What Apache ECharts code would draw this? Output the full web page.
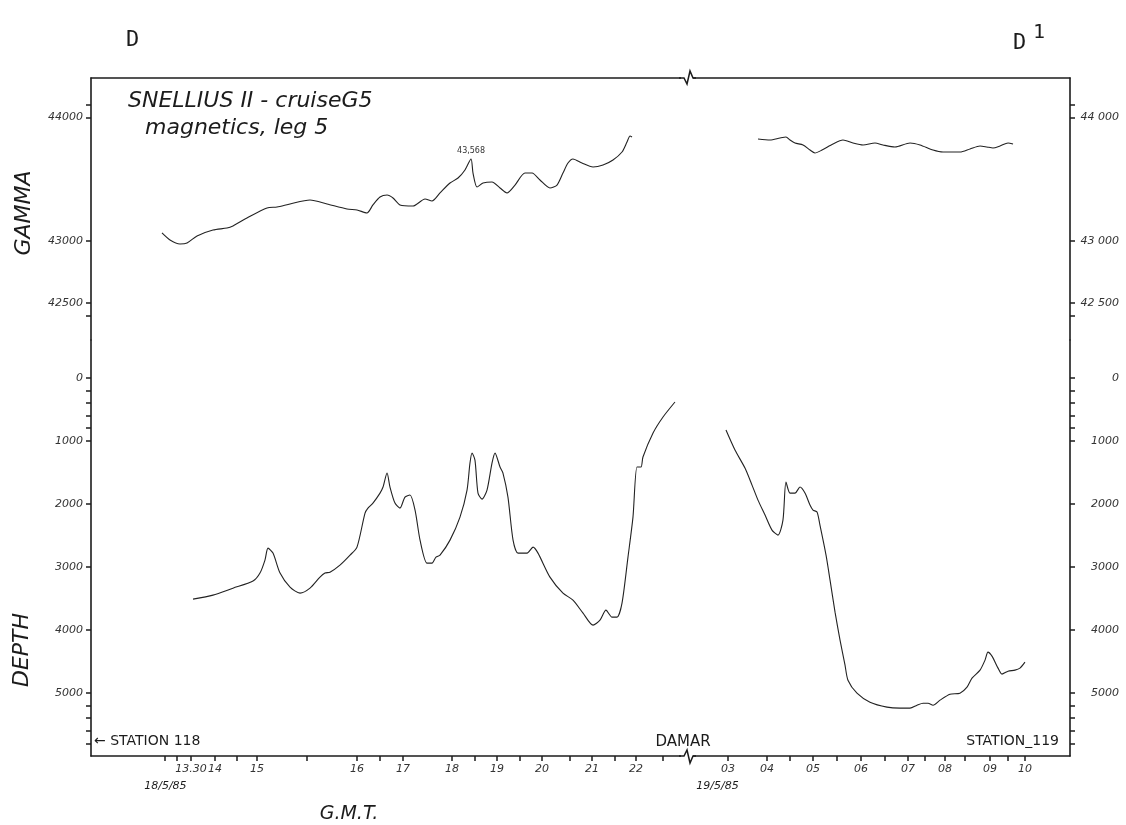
<!DOCTYPE html>
<html>
<head>
<meta charset="UTF-8">
<script src="https://cdn.jsdelivr.net/npm/echarts@6/dist/echarts.min.js"></script>
<style>
  html, body { margin: 0; background: #fff; }
  #main { width: 1126px; height: 825px; }
</style>
</head>
<body>
<div id="main"></div>
<script>
// x = position along the ship track, arbitrary units 0..100 across the frame

// magnetics (gamma), before and after the Damar gap
var gammaWestX = [7.25, 8.07, 9.09, 9.81, 10.83, 12.46, 13.89, 14.50, 15.93, 17.98, 19.00, 20.33, 22.37, 24.11, 26.15, 27.17, 28.19, 28.80, 29.52, 30.24, 30.85, 31.56, 32.89, 34.12, 34.83, 35.65, 36.67, 37.49, 38.20, 38.82, 39.02, 39.43, 40.04, 40.96, 41.78, 42.49, 43.31, 44.33, 45.05, 45.86, 46.88, 47.60, 48.21, 48.72, 49.23, 50.15, 51.28, 52.30, 53.32, 54.24, 54.75, 55.06, 55.26];
var gammaWestV = [43066, 43009, 42977, 42985, 43042, 43090, 43106, 43123, 43187, 43268, 43276, 43301, 43333, 43301, 43260, 43252, 43228, 43293, 43357, 43373, 43349, 43293, 43284, 43341, 43325, 43390, 43470, 43511, 43576, 43665, 43551, 43438, 43470, 43479, 43430, 43390, 43454, 43551, 43551, 43495, 43430, 43454, 43551, 43632, 43665, 43632, 43600, 43616, 43657, 43721, 43802, 43851, 43843];
var gammaEastX = [68.13, 69.36, 70.38, 70.99, 71.40, 71.91, 72.73, 73.44, 73.95, 74.67, 75.79, 76.81, 77.83, 78.86, 80.08, 80.90, 82.12, 83.66, 84.68, 86.01, 87.03, 88.76, 89.79, 90.81, 91.52, 92.13, 92.85, 93.67, 94.18];
var gammaEastV = [43826, 43818, 43835, 43843, 43818, 43794, 43778, 43737, 43713, 43737, 43786, 43818, 43794, 43778, 43794, 43778, 43762, 43794, 43778, 43737, 43721, 43721, 43746, 43770, 43762, 43754, 43770, 43794, 43786];
var gammaPeak = [38.82, 43665];
var gammaPeakLabel = '43,568';

// depth (m)
var depthWestX = [10.42, 12.46, 14.50, 16.55, 17.26, 17.77, 18.08, 18.59, 19.31, 20.33, 21.35, 22.37, 23.39, 23.90, 24.41, 25.43, 26.46, 27.17, 27.99, 28.29, 28.80, 29.52, 29.83, 30.24, 30.54, 31.05, 31.56, 32.07, 32.58, 33.10, 33.61, 34.32, 34.83, 35.24, 35.65, 36.67, 37.69, 38.41, 38.71, 38.92, 39.22, 39.53, 39.94, 40.45, 40.96, 41.27, 41.78, 42.08, 42.59, 43.11, 43.62, 44.54, 45.15, 45.66, 46.88, 48.21, 49.23, 50.26, 51.28, 51.99, 52.60, 53.22, 53.73, 54.24, 54.85, 55.36, 55.77, 56.18, 56.38, 57.41, 58.43, 59.65];
var depthWestV = [3511, 3448, 3337, 3225, 3098, 2892, 2702, 2781, 3098, 3321, 3416, 3337, 3162, 3098, 3083, 2971, 2813, 2686, 2146, 2067, 1987, 1829, 1733, 1511, 1733, 1987, 2067, 1892, 1860, 2098, 2575, 2940, 2940, 2844, 2813, 2575, 2210, 1781, 1352, 1194, 1305, 1829, 1924, 1781, 1352, 1194, 1416, 1511, 1892, 2575, 2781, 2781, 2686, 2781, 3162, 3416, 3527, 3733, 3924, 3844, 3686, 3797, 3797, 3575, 2844, 2210, 1416, 1416, 1257, 876, 622, 384];
var depthEastX = [64.86, 65.78, 66.80, 67.52, 68.13, 68.85, 69.56, 70.17, 70.68, 70.99, 71.40, 71.91, 72.42, 72.93, 73.44, 73.75, 74.16, 74.46, 75.08, 75.49, 76.00, 76.51, 77.02, 77.32, 78.24, 79.57, 81.31, 82.64, 83.66, 84.37, 84.99, 85.50, 86.01, 86.72, 87.74, 88.76, 89.48, 89.99, 90.81, 91.32, 91.62, 92.03, 92.65, 93.05, 93.67, 94.38, 94.89, 95.40];
var depthEastV = [829, 1146, 1432, 1702, 1940, 2178, 2416, 2495, 2257, 1654, 1829, 1829, 1733, 1829, 2019, 2098, 2130, 2337, 2813, 3210, 3718, 4162, 4559, 4797, 5003, 5146, 5225, 5241, 5241, 5194, 5162, 5162, 5194, 5114, 5019, 5003, 4908, 4765, 4638, 4479, 4352, 4416, 4606, 4701, 4654, 4638, 4606, 4511];

// G.M.T. axis
var hourTickX = [10.21, 12.67, 16.96, 27.17, 31.87, 36.87, 41.47, 46.07, 51.17, 55.67, 65.07, 69.05, 73.75, 78.65, 83.45, 87.23, 91.83, 95.40];
var hourTickLabels = ['13.30', '14', '15', '16', '17', '18', '19', '20', '21', '22', '03', '04', '05', '06', '07', '08', '09', '10'];
var halfTickX = [7.56, 8.78, 14.91, 22.06, 29.52, 39.22, 43.82, 48.93, 53.52, 58.43, 71.40, 76.20, 81.10, 85.19, 89.27, 93.67];
var dateLabels = [{ x: 7.6, text: '18/5/85' }, { x: 64.0, text: '19/5/85' }];
var breakX = 60.88;

var gammaLabelValues = [44000, 43000, 42500];
var gammaTickValues = [44100, 44000, 43000, 42500, 42400];
var depthLabelValues = [0, 1000, 2000, 3000, 4000, 5000];
var depthTickValues = [0, 200, 400, 600, 800, 1000, 2000, 3000, 4000, 5000, 5200, 5400, 5600, 5800];

function pairs(xs, vs) {
  return xs.map(function (x, i) { return [x, vs[i]]; });
}

var ink = '#1c1c1c';
var frameLine = { show: true, onZero: false, lineStyle: { color: ink, width: 1.6 } };
var tickFont = { fontFamily: 'DejaVu Sans', fontStyle: 'italic', fontSize: 11, color: '#333' };
var frameTop = 78, frameSplit = 340, frameBottom = 756;

function yAxisCfg(grid, pos, min, max, inverse, labels, ticks, fmt) {
  return {
    type: 'value', gridIndex: grid, position: pos, min: min, max: max, inverse: inverse,
    axisLine: frameLine,
    splitLine: { show: false },
    axisTick: { show: true, customValues: ticks, length: 5, lineStyle: { color: ink, width: 1.5 } },
    axisLabel: Object.assign({
      customValues: labels, formatter: fmt,
      margin: pos === 'left' ? 8 : 49, align: 'right'
    }, tickFont)
  };
}

function plain(v) { return String(v); }
function spaced(v) { return v >= 10000 ? String(v).slice(0, 2) + ' ' + String(v).slice(2) : String(v); }

var allTimeTicks = hourTickX.concat(halfTickX).sort(function (a, b) { return a - b; });

var lineStyle = { color: '#222', width: 1.1 };

var option = {
  backgroundColor: '#fff',
  animation: false,
  grid: [
    { left: 91, right: 56, top: frameTop, height: frameSplit - frameTop },
    { left: 91, right: 56, top: frameSplit, height: frameBottom - frameSplit }
  ],
  xAxis: [
    {
      type: 'value', gridIndex: 0, position: 'top', min: 0, max: 100,
      axisLine: frameLine, axisTick: { show: false }, axisLabel: { show: false }, splitLine: { show: false }
    },
    {
      type: 'value', gridIndex: 1, position: 'bottom', min: 0, max: 100,
      axisLine: frameLine, splitLine: { show: false },
      axisTick: { show: true, customValues: allTimeTicks, length: 5, lineStyle: { color: ink, width: 1.5 } },
      axisLabel: Object.assign({
        customValues: hourTickX, margin: 8,
        formatter: function (v) {
          for (var i = 0; i < hourTickX.length; i++) {
            if (Math.abs(hourTickX[i] - v) < 1e-6) return hourTickLabels[i];
          }
          return '';
        }
      }, tickFont)
    }
  ],
  yAxis: [
    yAxisCfg(0, 'left', 42200, 44320, false, gammaLabelValues, gammaTickValues, plain),
    yAxisCfg(0, 'right', 42200, 44320, false, gammaLabelValues, gammaTickValues, spaced),
    yAxisCfg(1, 'left', -600, 6000, true, depthLabelValues, depthTickValues, plain),
    yAxisCfg(1, 'right', -600, 6000, true, depthLabelValues, depthTickValues, plain)
  ],
  series: [
    {
      name: 'gamma west', type: 'line', xAxisIndex: 0, yAxisIndex: 0, data: pairs(gammaWestX, gammaWestV),
      symbol: 'none', smooth: 0.25, lineStyle: lineStyle,
      markPoint: {
        symbol: 'circle', symbolSize: 0,
        data: [{ coord: gammaPeak }],
        label: { show: true, position: 'top', distance: 4, formatter: gammaPeakLabel, fontFamily: 'DejaVu Sans', fontSize: 8, color: '#333' }
      }
    },
    { name: 'gamma east', type: 'line', xAxisIndex: 0, yAxisIndex: 0, data: pairs(gammaEastX, gammaEastV), symbol: 'none', smooth: 0.25, lineStyle: lineStyle },
    { name: 'depth west', type: 'line', xAxisIndex: 1, yAxisIndex: 2, data: pairs(depthWestX, depthWestV), symbol: 'none', smooth: 0.25, lineStyle: lineStyle },
    { name: 'depth east', type: 'line', xAxisIndex: 1, yAxisIndex: 2, data: pairs(depthEastX, depthEastV), symbol: 'none', smooth: 0.25, lineStyle: lineStyle }
  ]
};

var chart = echarts.init(document.getElementById('main'));
chart.setOption(option);

// texts and the axis-break zigzags
var sans = '"DejaVu Sans"';
function txt(x, y, text, font, align, extra) {
  return Object.assign({
    type: 'text', x: x, y: y,
    style: { text: text, font: font, fill: ink, textAlign: align || 'left', textVerticalAlign: 'middle' }
  }, extra || {});
}
var bx = chart.convertToPixel({ xAxisIndex: 1 }, breakX);
function zig(y, dir) {
  return [
    { type: 'rect', shape: { x: bx - 6, y: y - 3, width: 12, height: 6 }, style: { fill: '#fff' }, z: 100 },
    {
      type: 'polyline', z: 101,
      shape: { points: [[bx - 8, y], [bx - 3, y], [bx, y - 6 * dir], [bx + 3, y + 7 * dir], [bx + 6, y], [bx + 9, y]] },
      style: { stroke: ink, lineWidth: 1.5, fill: null }
    }
  ];
}

var graphics = [
  txt(126, 40, 'D', '22px "DejaVu Sans Mono"'),
  txt(1013, 43, 'D', '22px "DejaVu Sans Mono"'),
  txt(1033, 33, '1', '20px "DejaVu Sans Mono"'),
  txt(128, 101, 'SNELLIUS II - cruiseG5', 'italic 22px ' + sans),
  txt(145, 128, 'magnetics, leg 5', 'italic 22px ' + sans),
  txt(24, 213, 'GAMMA', 'italic 22px ' + sans, 'center', { rotation: Math.PI / 2 }),
  txt(22, 650, 'DEPTH', 'italic 22px ' + sans, 'center', { rotation: Math.PI / 2 }),
  txt(349, 814, 'G.M.T.', 'italic 19px ' + sans, 'center'),
  txt(94, 741, '\u2190 STATION 118', '14px ' + sans),
  txt(683, 742, 'DAMAR', '15px ' + sans, 'center'),
  txt(1059, 741, 'STATION_119', '14px ' + sans, 'right')
];
dateLabels.forEach(function (d) {
  graphics.push(txt(chart.convertToPixel({ xAxisIndex: 1 }, d.x), 786, d.text, 'italic 11px ' + sans, 'center'));
});
graphics = graphics.concat(zig(frameTop, -1), zig(frameBottom, 1));

chart.setOption({ graphic: graphics });
</script>
</body>
</html>
